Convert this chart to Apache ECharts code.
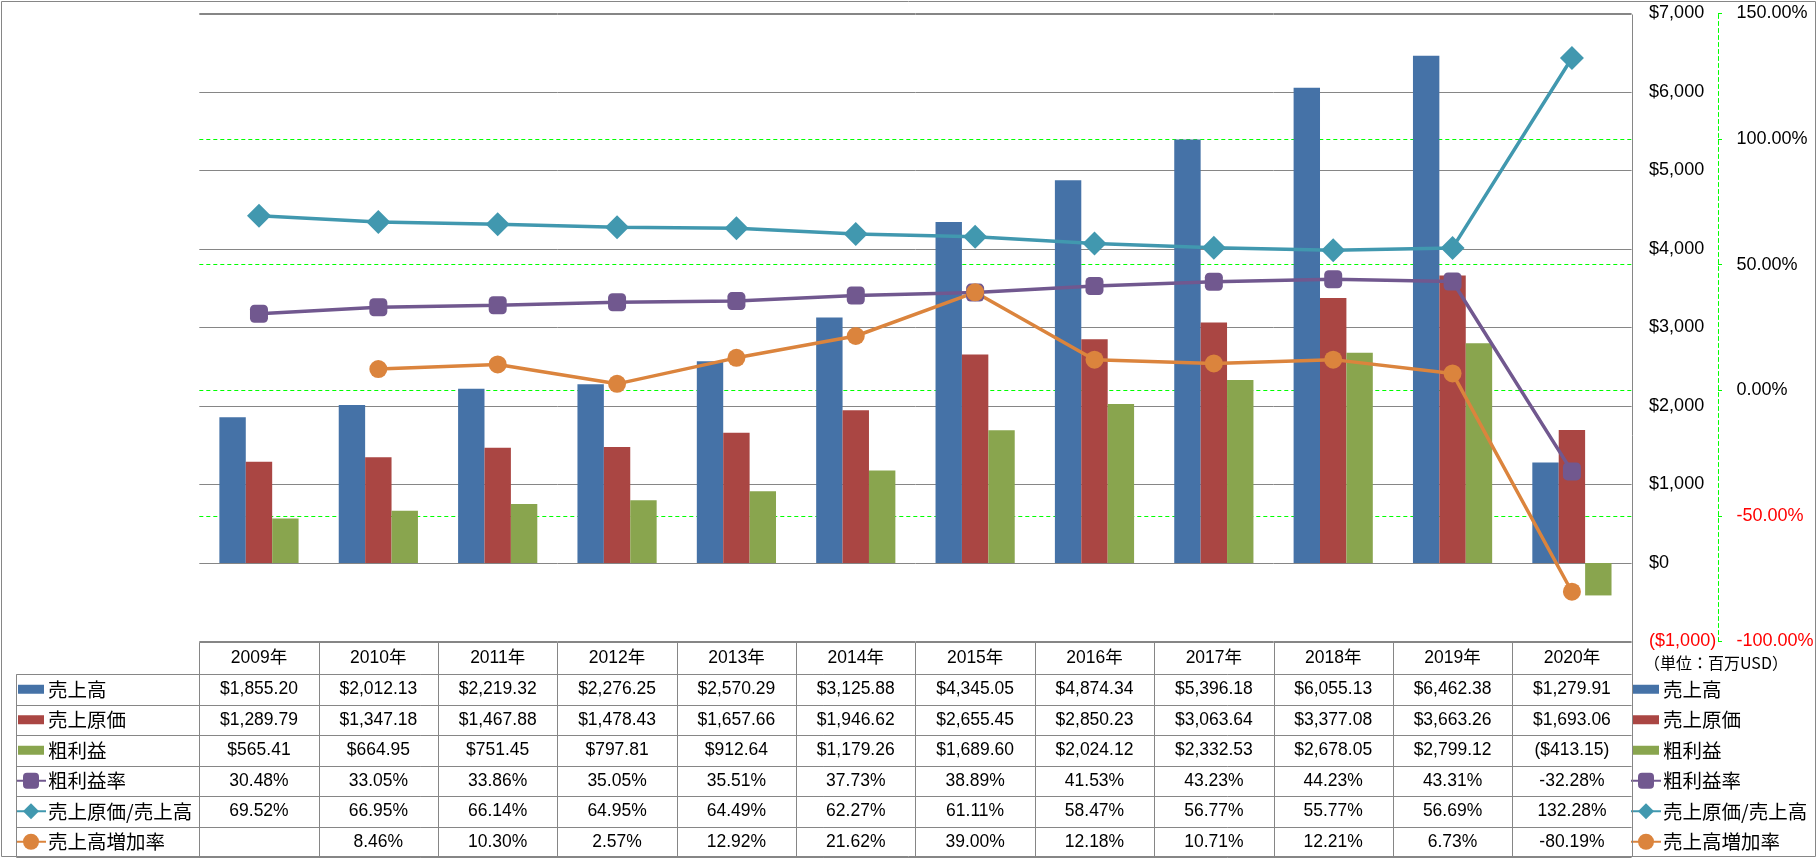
<!DOCTYPE html>
<html><head><meta charset="utf-8">
<script src="https://cdn.jsdelivr.net/npm/echarts@6/dist/echarts.min.js"></script>
<style>html,body{margin:0;padding:0;background:#fff}#c{width:1817px;height:858px}</style>
</head><body><div id="c"></div>
<script>
// ---- data ----
const years = ['2009年','2010年','2011年','2012年','2013年','2014年','2015年','2016年','2017年','2018年','2019年','2020年'];
const seriesNames = ['売上高','売上原価','粗利益','粗利益率','売上原価/売上高','売上高増加率'];
const sales = [1855.20, 2012.13, 2219.32, 2276.25, 2570.29, 3125.88, 4345.05, 4874.34, 5396.18, 6055.13, 6462.38, 1279.91];
const cogs = [1289.79, 1347.18, 1467.88, 1478.43, 1657.66, 1946.62, 2655.45, 2850.23, 3063.64, 3377.08, 3663.26, 1693.06];
const gross = [565.41, 664.95, 751.45, 797.81, 912.64, 1179.26, 1689.60, 2024.12, 2332.53, 2678.05, 2799.12, -413.15];
const grossRate = [30.48, 33.05, 33.86, 35.05, 35.51, 37.73, 38.89, 41.53, 43.23, 44.23, 43.31, -32.28];
const cogsRatio = [69.52, 66.95, 66.14, 64.95, 64.49, 62.27, 61.11, 58.47, 56.77, 55.77, 56.69, 132.28];
const growth = [null, 8.46, 10.30, 2.57, 12.92, 21.62, 39.00, 12.18, 10.71, 12.21, 6.73, -80.19];
const usdAxis = [-1000, 7000, 1000];   // min, max, interval
const pctAxis = [-100, 150, 50];
const unitLabel = '（単位：百万USD）';

// ---- formatting ----
function usd(v, dec) {
  if (v === null || v === undefined) return '';
  const s = '$' + Math.abs(v).toLocaleString('en-US', {minimumFractionDigits: dec, maximumFractionDigits: dec});
  return v < 0 ? '(' + s + ')' : s;
}
function pct(v) { return (v === null || v === undefined) ? '' : v.toFixed(2) + '%'; }

// ---- layout ----
const PL = 199.3, PR = 1631.6, PT = 13.5, PB = 641.5;
const HEAD_B = 674, ROW_H = 30.5, T_LEFT = 16.3, T_BOTTOM = 857;
const COLW = (PR - PL) / years.length;
const GRAY = '#868686', GREEN = '#00FF00';
const NUMFONT = "'Liberation Sans', Arial, 'Noto Sans CJK JP', sans-serif";
const JPFONT = "'Noto Sans CJK JP', sans-serif";
const C = ['#4572A7', '#AA4643', '#89A54E', '#71588F', '#4198AF', '#DB843D'];

const rows = [
  {vals: sales, f: v => usd(v, 2)},
  {vals: cogs, f: v => usd(v, 2)},
  {vals: gross, f: v => usd(v, 2)},
  {vals: grossRate, f: pct},
  {vals: cogsRatio, f: pct},
  {vals: growth, f: pct}
];

const xAxes = [{
  type: 'category', data: years, gridIndex: 0, position: 'bottom',
  axisLine: {show: false, onZero: false}, axisTick: {show: false}, splitLine: {show: false},
  axisLabel: {margin: 16.5, verticalAlign: 'middle', interval: 0, color: '#000', fontSize: 17.5, fontFamily: NUMFONT}
}];
rows.forEach((r, i) => {
  xAxes.push({
    type: 'category', data: years, gridIndex: 0, position: 'bottom',
    offset: HEAD_B + ROW_H * i + ROW_H / 2 - PB,
    axisLine: {show: false, onZero: false}, axisTick: {show: false}, splitLine: {show: false},
    axisLabel: {margin: 0, verticalAlign: 'middle', interval: 0, color: '#000', fontSize: 17.5, fontFamily: NUMFONT,
      formatter: (val, idx) => r.f(r.vals[idx])}
  });
});

// table / border lines (layout only)
const graphics = [];
function ln(x1, y1, x2, y2) {
  graphics.push({type: 'line', silent: true, z: 100, zlevel: 1, shape: {x1, y1, x2, y2}, style: {stroke: GRAY, lineWidth: 1}});
}
const px = v => Math.round(v) + 0.5;
ln(PL, px(PT), PR, px(PT));
ln(PL, px(PB), PR, px(PB));
for (let k = 0; k <= rows.length; k++) {
  const y = px(HEAD_B + ROW_H * k);
  ln(T_LEFT, y, PR, y);
}
for (let k = 0; k <= years.length; k++) {
  const x = px(PL + COLW * k);
  const y0 = (k === years.length) ? px(PT) : px(PB);
  ln(x, y0, x, T_BOTTOM);
}
ln(px(T_LEFT), px(HEAD_B), px(T_LEFT), T_BOTTOM);
graphics.push({type: 'rect', silent: true, z: 100, zlevel: 1, shape: {x: 1.5, y: 1.5, width: 1814, height: 855},
  style: {fill: 'none', stroke: GRAY, lineWidth: 1}});
graphics.push({type: 'text', silent: true, z: 100, x: 1644, y: 663,
  style: {text: unitLabel, fill: '#000', font: "16px 'Noto Sans CJK JP'", textVerticalAlign: 'middle'}});

const barIcon = 'path://M0,0M2,5.5L28,5.5L28,14.5L2,14.5ZM30,20';
const legendData = seriesNames.map((n, i) => i < 3 ? {name: n, icon: barIcon} : {name: n});
function mkLegend(left) {
  return {
    data: legendData, orient: 'vertical', left: left, top: HEAD_B + ROW_H / 2 - 10,
    itemWidth: 30, itemHeight: 20, itemGap: ROW_H - 20, padding: 0, selectedMode: false,
    textStyle: {fontSize: 19.5, fontFamily: JPFONT, color: '#000', lineHeight: 20, padding: [0, 0, 0, -3]}
  };
}

const barBase = {type: 'bar', barWidth: 26.4, barGap: '0%', xAxisIndex: 0, yAxisIndex: 0};
const lineBase = {type: 'line', xAxisIndex: 0, yAxisIndex: 1, lineStyle: {width: 3.5}, connectNulls: false, z: 5};

const option = {
  animation: false,
  backgroundColor: '#fff',
  grid: {show: false, left: PL, top: PT, width: PR - PL, height: PB - PT, containLabel: false},
  legend: [mkLegend(15), mkLegend(1630)],
  xAxis: xAxes,
  yAxis: [{
    type: 'value', position: 'right', min: usdAxis[0], max: usdAxis[1], interval: usdAxis[2],
    axisLine: {show: false}, axisTick: {show: false},
    splitLine: {show: true, lineStyle: {color: GRAY, width: 1, type: 'solid'}},
    axisLabel: {margin: 17.5, fontSize: 18, fontFamily: NUMFONT,
      color: v => Number(v) < 0 ? '#FF0000' : '#000',
      formatter: v => usd(v, 0)}
  }, {
    type: 'value', position: 'right', offset: 86.4, min: pctAxis[0], max: pctAxis[1], interval: pctAxis[2],
    axisLine: {show: true, lineStyle: {color: GREEN, width: 1, type: [4, 3]}},
    axisTick: {show: true, length: 4, lineStyle: {color: GREEN}},
    splitLine: {show: true, showMinLine: false, showMaxLine: false, lineStyle: {color: GREEN, width: 1, type: [4, 3]}},
    axisLabel: {margin: 18.5, fontSize: 18, fontFamily: NUMFONT,
      color: v => Number(v) < 0 ? '#FF0000' : '#000',
      formatter: v => Number(v).toFixed(2) + '%'}
  }],
  series: [
    Object.assign({}, barBase, {name: seriesNames[0], data: sales, itemStyle: {color: C[0]}}),
    Object.assign({}, barBase, {name: seriesNames[1], data: cogs, itemStyle: {color: C[1]}}),
    Object.assign({}, barBase, {name: seriesNames[2], data: gross, itemStyle: {color: C[2]}}),
    Object.assign({}, lineBase, {name: seriesNames[3], data: grossRate, symbol: 'roundRect', symbolSize: 18,
      itemStyle: {color: C[3]}, lineStyle: {width: 3.5, color: C[3]}}),
    Object.assign({}, lineBase, {name: seriesNames[4], data: cogsRatio, symbol: 'diamond', symbolSize: 24,
      itemStyle: {color: C[4]}, lineStyle: {width: 3.5, color: C[4]}}),
    Object.assign({}, lineBase, {name: seriesNames[5], data: growth, symbol: 'circle', symbolSize: 18,
      itemStyle: {color: C[5]}, lineStyle: {width: 3.5, color: C[5]}})
  ],
  graphic: graphics
};
const chart = echarts.init(document.getElementById('c'), null, {renderer: 'canvas'});
chart.setOption(option);
</script></body></html>
